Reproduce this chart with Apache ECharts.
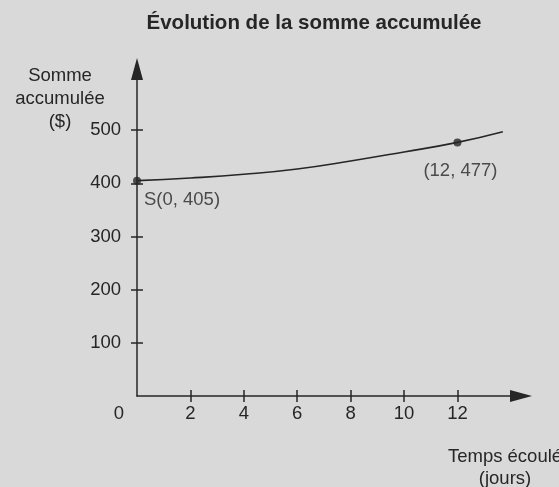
<!DOCTYPE html>
<html>
<head>
<meta charset="utf-8">
<script src="https://cdn.jsdelivr.net/npm/echarts@6/dist/echarts.min.js"></script>
<style>
  html, body { margin: 0; padding: 0; background: #d9d9d9; }
  #chart { width: 559px; height: 487px; }
</style>
</head>
<body>
<div id="chart"></div>
<script>
// values
const days = [0, 2, 4, 6, 8, 10, 12, 13.7];
const sums = [405, 410, 417, 427, 442, 459, 477, 497];
const markedPoints = [[0, 405, 'S(0, 405)'], [12, 477, '(12, 477)']];
const xTicks = [0, 2, 4, 6, 8, 10, 12];
const yTicks = [100, 200, 300, 400, 500];

const font = '"Liberation Sans", Arial, sans-serif';
const ink = '#262626';
const fs = 18.5;

const chart = echarts.init(document.getElementById('chart'));

// both sides of a crossing tick: one axis draws outside, a twin draws inside
const tickStyle = { lineStyle: { color: ink, width: 1.5 }, length: 6 };

const option = {
    backgroundColor: '#d9d9d9',
    animation: false,
    textStyle: { fontFamily: font },
    title: [
        {
            text: 'Évolution de la somme accumulée',
            left: 309, top: 8, textAlign: 'center',
            textStyle: { fontSize: 20.5, fontWeight: 'bold', color: ink, fontFamily: font },
        },
        {
            text: 'Somme\naccumulée\n($)',
            left: 55, top: 59, textAlign: 'center',
            textStyle: { fontSize: fs, fontWeight: 'normal', color: ink, lineHeight: 23, fontFamily: font },
        },
        {
            text: 'Temps écoulé\n(jours)',
            left: 500, top: 441, textAlign: 'center',
            textStyle: { fontSize: fs, fontWeight: 'normal', color: ink, lineHeight: 22, fontFamily: font },
        },
    ],
    grid: { left: 137, right: 38, top: 69, bottom: 91, outerBoundsMode: 'none' },
    xAxis: [
        {
            type: 'value', min: 0, max: 14.38, position: 'bottom',
            splitLine: { show: false },
            axisLine: { lineStyle: { color: ink, width: 1.5 }, symbol: ['none', 'triangle'], symbolSize: [12, 22] },
            axisTick: { ...tickStyle, inside: false, customValues: xTicks.slice(1) },
            axisLabel: {
                customValues: xTicks, margin: 8, fontSize: fs, color: ink,
                formatter: v => v === 0 ? '{z|0}' : String(v),
                rich: { z: { fontSize: fs, color: ink, padding: [0, 36, 0, 0] } },
            },
        },
        {
            type: 'value', min: 0, max: 14.38, position: 'bottom',
            axisLine: { show: false }, splitLine: { show: false },
            axisTick: { ...tickStyle, inside: true, customValues: xTicks.slice(1) },
            axisLabel: { show: false },
        },
    ],
    yAxis: [
        {
            type: 'value', min: 0, max: 615, position: 'left',
            splitLine: { show: false },
            axisLine: { show: true, lineStyle: { color: ink, width: 1.5 }, symbol: ['none', 'triangle'], symbolSize: [12, 22] },
            axisTick: { show: true, ...tickStyle, inside: false, customValues: yTicks },
            axisLabel: { customValues: yTicks, margin: 16, fontSize: fs, color: ink },
        },
        {
            type: 'value', min: 0, max: 615, position: 'left',
            axisLine: { show: false }, splitLine: { show: false },
            axisTick: { show: true, ...tickStyle, inside: true, customValues: yTicks },
            axisLabel: { show: false },
        },
    ],
    series: [
        {
            type: 'line',
            smooth: true,
            showSymbol: false,
            data: days.map((d, i) => [d, sums[i]]),
            lineStyle: { color: ink, width: 1.6 },
        },
        {
            type: 'scatter',
            symbolSize: 8,
            itemStyle: { color: ink },
            data: markedPoints.map(p => ({ value: [p[0], p[1]], name: p[2] })),
            label: {
                show: true, position: 'bottom', fontSize: fs, color: ink,
                formatter: p => p.name,
            },
            labelLayout: p => p.dataIndex === 0 ? { dx: 45, dy: 1 } : { dx: 3, dy: 10 },
        },
    ],
};

chart.setOption(option);
</script>
</body>
</html>
